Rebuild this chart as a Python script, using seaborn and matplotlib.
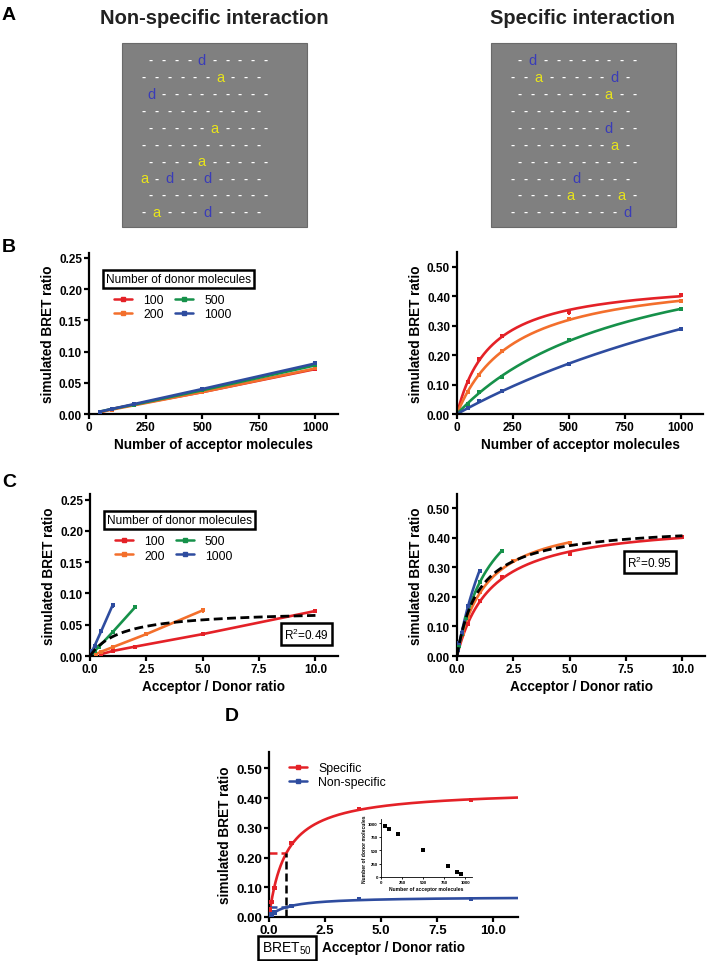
import numpy as np
import pandas as pd
import matplotlib
matplotlib.use("Agg")
import matplotlib.pyplot as plt
from matplotlib.patches import Rectangle
from matplotlib.lines import Line2D
import seaborn as sns

# ---------------- data ----------------
acceptors = [50, 100, 200, 500, 1000]
donor_labels = ['100', '200', '500', '1000']
donors = [100, 200, 500, 1000]
palette = ['#e42127', '#f36f2c', '#16914a', '#2e4c9f']

# non-specific interaction (B / C left)
nonspec_100 = [0.003, 0.008, 0.015, 0.035, 0.072]
nonspec_200 = [0.003, 0.007, 0.014, 0.035, 0.073]
nonspec_500 = [0.004, 0.008, 0.015, 0.038, 0.078]
nonspec_1000 = [0.004, 0.008, 0.016, 0.040, 0.081]
nonspec_err = [0.0, 0.0, 0.001, 0.0015, 0.0035]

# specific interaction (B / C right)
spec_100 = [0.108, 0.187, 0.266, 0.345, 0.404]
spec_200 = [0.075, 0.133, 0.215, 0.322, 0.382]
spec_500 = [0.035, 0.074, 0.127, 0.250, 0.356]
spec_1000 = [0.020, 0.043, 0.077, 0.170, 0.289]
spec_err = [0.0, 0.0, 0.004, 0.008, 0.004]

# panel D: 1000 molecules split between acceptor and donor
d_acceptors = [50, 100, 200, 500, 800, 900, 950]
d_donors = [950, 900, 800, 500, 200, 100, 50]
d_specific = [0.025, 0.050, 0.098, 0.249, 0.364, 0.394, 0.410]
d_nonspecific = [0.004, 0.008, 0.015, 0.037, 0.060, 0.060, 0.066]

r2_nonspec = 'R$^2$=0.49'
r2_spec = 'R$^2$=0.95'

# panel A schematic rows
rows_nonspec = ['----d-----', '------a---', 'd---------', '----------', '-----a----',
                '----------', '----a-----', 'a-d--d----', '----------', '-a---d----']
rows_spec = ['-d--------', '--a-----d-', '-------a--', '----------', '-------d--',
             '--------a-', '----------', '-----d----', '----a---a-', '---------d']

# ---------------- helpers ----------------
def fit_hyperbola(x, y):
    x = np.asarray(x, float)
    y = np.asarray(y, float)
    best = None
    for k in np.geomspace(x.max() * 1e-3, x.max() * 100, 4000):
        f = x / (k + x)
        bmax = (f @ y) / (f @ f)
        sse = ((y - bmax * f) ** 2).sum()
        if best is None or sse < best[0]:
            best = (sse, bmax, k)
    return best[1], best[2]


def curve_df(x, y, xmax, label):
    bmax, k = fit_hyperbola(x, y)
    xs = np.linspace(0, xmax, 300)
    return pd.DataFrame({'x': xs, 'y': bmax * xs / (k + xs), 'label': label})


def long_df(series):
    df = pd.DataFrame({'acceptors': np.tile(acceptors, len(donors)),
                       'donors': np.repeat(donors, len(acceptors)),
                       'label': np.repeat(donor_labels, len(acceptors)),
                       'bret': np.concatenate(series),
                       'err': np.tile(nonspec_err, len(donors))})
    df['ratio'] = df['acceptors'] / df['donors']
    return df


df_ns = long_df([nonspec_100, nonspec_200, nonspec_500, nonspec_1000])
df_sp = long_df([spec_100, spec_200, spec_500, spec_1000])
df_sp['err'] = 0.0
df_sp.loc[df_sp['label'] == '100', 'err'] = spec_err

W, H = 708, 962
sns.set_theme(style='ticks', rc={'axes.edgecolor': 'black', 'xtick.color': 'black',
                                 'ytick.color': 'black', 'text.color': 'black',
                                 'axes.labelcolor': 'black'})
plt.rcParams['font.family'] = ['Liberation Sans', 'DejaVu Sans']
plt.rcParams['mathtext.fontset'] = 'custom'
plt.rcParams['mathtext.rm'] = 'Liberation Sans'

fig = plt.figure(figsize=(W / 100, H / 100), dpi=100)
DASH = (0, (3.2, 1.6))


def px_axes(x0, y0, x1, y1):
    return fig.add_axes([x0 / W, 1 - y1 / H, (x1 - x0) / W, (y1 - y0) / H])


def style(ax, xlim, ylim, xticks, yticks, xfmt, yfmt, xlabel, tsize=8.5, lsize=9.8, lw=1.6):
    sns.despine(ax=ax)
    for s in ['left', 'bottom']:
        ax.spines[s].set_linewidth(lw)
    ax.set_xlim(*xlim)
    ax.set_ylim(*ylim)
    ax.set_xticks(xticks)
    ax.set_yticks(yticks)
    ax.set_xticklabels([xfmt.format(v) for v in xticks], fontweight='bold', fontsize=tsize)
    ax.set_yticklabels([yfmt.format(v) for v in yticks], fontweight='bold', fontsize=tsize)
    ax.tick_params(direction='out', length=3.5, width=lw, pad=1.5)
    ax.set_xlabel(xlabel, fontweight='bold', fontsize=lsize, labelpad=3)
    ax.set_ylabel('simulated BRET ratio', fontweight='bold', fontsize=lsize, labelpad=3)


def points(ax, df, xcol):
    for lab, c in zip(donor_labels, palette):
        sub = df[df['label'] == lab]
        ax.errorbar(sub[xcol], sub['bret'], yerr=sub['err'], fmt='s', ms=3, mew=0,
                    color=c, ecolor=c, elinewidth=1.4, capsize=2.4, capthick=1.4, zorder=3)


def donor_legend(ax):
    ax.text(0.07, 0.84, 'Number of donor molecules', transform=ax.transAxes, fontsize=8.5,
            va='center', ha='left',
            bbox=dict(boxstyle='square,pad=0.25', fc='white', ec='black', lw=1.8))
    handles = [Line2D([], [], color=c, lw=1.8, marker='s', ms=2.5) for c in palette]
    ax.legend(handles, donor_labels, ncol=2, frameon=False, loc='upper left',
              bbox_to_anchor=(0.1, 0.745), fontsize=8.8, handlelength=1.5,
              handletextpad=0.9, columnspacing=0.9, labelspacing=0.2,
              borderpad=0, borderaxespad=0)


def r2_box(ax, x, y, text):
    ax.text(x, y, text, transform=ax.transAxes, fontsize=8.5, ha='center', va='center',
            bbox=dict(boxstyle='square,pad=0.3', fc='white', ec='black', lw=1.8))


# ---------------- B left ----------------
ax = px_axes(89, 254, 338, 415)
sns.lineplot(data=df_ns, x='acceptors', y='bret', hue='label', hue_order=donor_labels,
             palette=palette, lw=1.9, legend=False, ax=ax, errorbar=None)
points(ax, df_ns, 'acceptors')
style(ax, (0, 1100), (0, 0.258), [0, 250, 500, 750, 1000], [0, 0.05, 0.10, 0.15, 0.20, 0.25],
      '{:.0f}', '{:.2f}', 'Number of acceptor molecules')
donor_legend(ax)

# ---------------- B right ----------------
ax = px_axes(457, 253, 703, 415)
fits = pd.concat([curve_df(df_sp[df_sp['label'] == lab]['acceptors'],
                           df_sp[df_sp['label'] == lab]['bret'], 1000, lab)
                  for lab in donor_labels])
sns.lineplot(data=fits, x='x', y='y', hue='label', hue_order=donor_labels, palette=palette,
             lw=1.9, legend=False, ax=ax, errorbar=None)
points(ax, df_sp, 'acceptors')
style(ax, (0, 1100), (0, 0.55), [0, 250, 500, 750, 1000], [0, 0.1, 0.2, 0.3, 0.4, 0.5],
      '{:.0f}', '{:.2f}', 'Number of acceptor molecules')

# ---------------- C left ----------------
ax = px_axes(90, 495, 338, 657)
sns.lineplot(data=df_ns, x='ratio', y='bret', hue='label', hue_order=donor_labels,
             palette=palette, lw=1.9, legend=False, ax=ax, errorbar=None, sort=True)
points(ax, df_ns, 'ratio')
glob = curve_df(df_ns['ratio'], df_ns['bret'], 10, 'all')
sns.lineplot(data=glob, x='x', y='y', color='black', lw=2, ax=ax, zorder=4)
ax.lines[-1].set_linestyle(DASH)
style(ax, (0, 11), (0, 0.259), [0, 2.5, 5, 7.5, 10], [0, 0.05, 0.10, 0.15, 0.20, 0.25],
      '{:.1f}', '{:.2f}', 'Acceptor / Donor ratio')
donor_legend(ax)
r2_box(ax, 0.873, 0.135, r2_nonspec)

# ---------------- C right ----------------
ax = px_axes(457, 495, 705, 657)
fits = pd.concat([curve_df(df_sp[df_sp['label'] == lab]['ratio'],
                           df_sp[df_sp['label'] == lab]['bret'],
                           df_sp[df_sp['label'] == lab]['ratio'].max(), lab)
                  for lab in donor_labels])
sns.lineplot(data=fits, x='x', y='y', hue='label', hue_order=donor_labels, palette=palette,
             lw=1.9, legend=False, ax=ax, errorbar=None)
points(ax, df_sp, 'ratio')
glob = curve_df(df_sp['ratio'], df_sp['bret'], 10, 'all')
sns.lineplot(data=glob, x='x', y='y', color='black', lw=2, ax=ax, zorder=4)
ax.lines[-1].set_linestyle(DASH)
style(ax, (0, 11), (0, 0.548), [0, 2.5, 5, 7.5, 10], [0, 0.1, 0.2, 0.3, 0.4, 0.5],
      '{:.1f}', '{:.2f}', 'Acceptor / Donor ratio')
r2_box(ax, 0.777, 0.58, r2_spec)

# ---------------- D ----------------
ax = px_axes(269, 753, 518, 918)
d_ratio = np.array(d_acceptors) / np.array(d_donors)
df_d = pd.DataFrame({'ratio': np.tile(d_ratio, 2),
                     'bret': d_specific + d_nonspecific,
                     'label': ['Specific'] * len(d_ratio) + ['Non-specific'] * len(d_ratio)})
d_cols = {'Specific': '#e42127', 'Non-specific': '#2e4c9f'}
xmax_d = 11.1
curves = []
params = {}
for lab in ['Specific', 'Non-specific']:
    sub = df_d[df_d['label'] == lab]
    params[lab] = fit_hyperbola(sub['ratio'], sub['bret'])
    curves.append(curve_df(sub['ratio'], sub['bret'], xmax_d, lab))
sns.lineplot(data=pd.concat(curves), x='x', y='y', hue='label', palette=d_cols, lw=1.9,
             legend=False, ax=ax, errorbar=None)
sns.scatterplot(data=df_d, x='ratio', y='bret', hue='label', palette=d_cols, marker='s',
                s=10, linewidth=0, legend=False, ax=ax, zorder=3)
bs, ks = params['Specific']
bn, kn = params['Non-specific']
ax.plot([0, ks], [bs / 2, bs / 2], color='#e42127', lw=1.8, ls=DASH)
ax.plot([ks, ks], [0, bs / 2], color='black', lw=1.8, ls=DASH)
ax.plot([0, kn], [bn / 2, bn / 2], color='#2e4c9f', lw=1.8, ls=DASH)
style(ax, (0, xmax_d), (0, 0.555), [0, 2.5, 5, 7.5, 10], [0, 0.1, 0.2, 0.3, 0.4, 0.5],
      '{:.1f}', '{:.2f}', 'Acceptor / Donor ratio', tsize=9.5)
handles = [Line2D([], [], color=c, lw=1.8, marker='s', ms=2.5) for c in d_cols.values()]
ax.legend(handles, list(d_cols), frameon=False, loc='upper left', bbox_to_anchor=(0.08, 0.94),
          fontsize=8.8, handlelength=1.5, handletextpad=0.9, labelspacing=0.2,
          borderpad=0, borderaxespad=0)

# inset
ins = px_axes(381, 820, 472, 878)
sns.scatterplot(x=d_acceptors, y=d_donors, color='black', marker='s', s=5, linewidth=0, ax=ins)
sns.despine(ax=ins)
for s in ['left', 'bottom']:
    ins.spines[s].set_linewidth(0.6)
ins.set_xlim(0, 1080)
ins.set_ylim(0, 1080)
ins.set_xticks([0, 250, 500, 750, 1000])
ins.set_yticks([0, 250, 500, 750, 1000])
ins.tick_params(labelsize=3.2, length=1.5, width=0.6, pad=0.8)
for t in ins.get_xticklabels() + ins.get_yticklabels():
    t.set_fontweight('bold')
ins.set_xlabel('Number of acceptor molecules', fontsize=3.6, fontweight='bold', labelpad=1)
ins.set_ylabel('Number of donor molecules', fontsize=3.6, fontweight='bold', labelpad=1)

# ---------------- overlay: panel A, letters ----------------
ov = fig.add_axes([0, 0, 1, 1], zorder=10)
ov.set_xlim(0, W)
ov.set_ylim(H, 0)
ov.axis('off')
char_col = {'-': 'white', 'a': '#e8e41c', 'd': '#3a3cb8'}
for bx, rows, title in zip([122, 491], [rows_nonspec, rows_spec],
                           ['Non-specific interaction', 'Specific interaction']):
    ov.add_patch(Rectangle((bx, 44), 185, 184, fc='#808080', ec='#6a6a6a', lw=0.8))
    ov.text(bx + 92, 19, title, fontsize=14.5, fontweight='bold', ha='center', va='center',
            color='#222222')
    for i, row in enumerate(rows):
        x0 = bx + 22 + (7 if i % 2 == 0 else 0)
        y = 61 + i * 16.9
        for j, ch in enumerate(row):
            ov.text(x0 + j * 12.7, y, ch, color=char_col[ch], ha='center', va='center',
                    fontsize=10.5 if ch != '-' else 9, fontweight='bold' if ch == '-' else 'normal')

for lab, (x, y) in zip('ABCD', [(9, 15), (9, 248), (9, 483), (232, 717)]):
    ov.text(x, y, lab, fontsize=14, fontweight='bold', ha='center', va='center')

ov.text(287, 949, 'BRET$_{50}$', fontsize=10, ha='center', va='center',
        bbox=dict(boxstyle='square,pad=0.3', fc='white', ec='black', lw=1.8))

fig.savefig('out.png', dpi=100)
